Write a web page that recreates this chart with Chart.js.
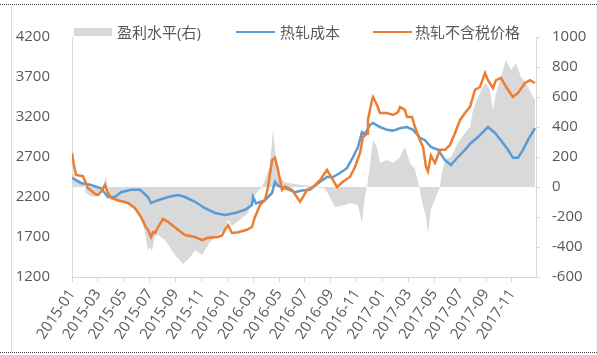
<!DOCTYPE html>
<html><head><meta charset="utf-8">
<script src="https://cdn.jsdelivr.net/npm/chart.js@4.4.1/dist/chart.umd.min.js"></script>
<style>
html,body{margin:0;padding:0;background:#fff;}
#wrap{position:relative;width:597px;height:355px;overflow:hidden;font-family:'Open Sans','Noto Sans CJK SC',sans-serif;}
canvas{position:absolute;left:0;top:0;}
.lg{position:absolute;top:23px;font-size:15px;color:#595959;line-height:18px;white-space:nowrap;}
.sw{position:absolute;}
.frame-top{position:absolute;left:0;top:4px;width:597px;border-top:1px dotted #444;}
.frame-bot{position:absolute;left:0;top:352px;width:597px;border-top:1px dotted #444;}
.frame-l{position:absolute;left:11px;top:6px;height:346px;border-left:1px solid #d9d9d9;}
.frame-r{position:absolute;left:596px;top:6px;height:346px;border-left:1px solid #eeeeee;}
</style></head>
<body>
<div id="wrap">
<canvas id="c" width="597" height="355"></canvas>
<div class="frame-top"></div><div class="frame-bot"></div><div class="frame-l"></div><div class="frame-r"></div>
<div class="sw" style="left:74px;top:28px;width:38px;height:8px;background:#D9D9D9"></div>
<div class="lg" style="left:117px">盈利水平(右)</div>
<div class="sw" style="left:236px;top:31px;width:39px;height:2px;background:#5B9BD5"></div>
<div class="lg" style="left:280px">热轧成本</div>
<div class="sw" style="left:373px;top:31px;width:39px;height:2px;background:#ED7D31"></div>
<div class="lg" style="left:415px">热轧不含税价格</div>
</div>
<script>
// x values: months elapsed since 2015-01-01
const tickLabels = ['2015-01','2015-03','2015-05','2015-07','2015-09','2015-11','2016-01','2016-03','2016-05','2016-07','2016-09','2016-11','2017-01','2017-03','2017-05','2017-07','2017-09','2017-11'];
const tickMonths = [0,2,4,6,8,10,12,14,16,18,20,22,24,26,28,30,32,34];

const priceT = [0,0.15,0.31,0.85,1.24,1.78,2.01,2.32,2.55,2.78,3.01,3.55,4.33,4.87,5.33,5.72,5.87,6.11,6.26,6.41,6.65,7.03,7.42,8.19,8.73,9.51,10.05,10.51,11.28,11.59,11.82,12.06,12.36,12.83,13.52,13.91,14.14,14.30,14.53,14.91,15.15,15.46,15.69,15.92,16.23,16.46,17.00,17.62,17.85,18.16,18.62,19.17,19.71,19.94,20.48,20.94,21.48,21.87,22.26,22.49,22.80,22.87,23.18,23.26,23.57,23.80,24.34,24.81,25.19,25.35,25.73,25.89,26.28,26.51,26.89,27.13,27.36,27.51,27.74,28.05,28.44,28.83,29.21,29.60,29.98,30.37,30.76,31.14,31.53,31.92,32.15,32.53,32.77,33.15,33.69,34.08,34.47,35.01,35.39,35.78];
const priceV = [2750,2600,2475,2460,2310,2240,2225,2280,2350,2250,2190,2160,2125,2060,1950,1820,1790,1700,1760,1750,1825,1925,1890,1790,1725,1700,1660,1690,1700,1720,1790,1850,1750,1760,1790,1825,1950,2010,2100,2160,2325,2660,2690,2540,2290,2330,2290,2140,2200,2290,2325,2410,2540,2475,2325,2390,2450,2575,2750,2950,2990,3160,3410,3450,3350,3250,3250,3225,3260,3325,3290,3200,3200,3075,2910,2825,2575,2520,2720,2625,2790,2790,2850,3000,3160,3250,3325,3540,3575,3750,3660,3560,3660,3690,3540,3450,3500,3625,3660,3625];

const costT = [0,0.70,1.47,2.24,2.78,3.32,3.79,4.56,5.26,5.87,6.11,6.65,7.42,8.19,8.73,9.51,10.28,11.05,11.82,12.60,13.37,13.91,13.99,14.22,14.91,15.46,15.69,15.92,16.46,17.23,17.77,18.39,19.17,19.71,20.17,20.71,21.25,21.72,22.10,22.41,22.64,23.03,23.26,23.80,24.34,24.81,25.35,25.89,26.35,26.89,27.28,27.74,28.28,28.83,29.29,29.83,30.37,30.83,31.38,31.92,32.15,32.69,33.15,33.69,34.08,34.47,34.85,35.24,35.78];
const costV = [2440,2375,2350,2310,2200,2200,2260,2290,2290,2200,2125,2160,2200,2225,2200,2140,2060,2000,1975,2000,2040,2100,2200,2120,2160,2250,2390,2340,2310,2260,2280,2290,2390,2450,2450,2500,2560,2700,2825,3010,2990,3100,3125,3075,3040,3030,3060,3075,3040,2940,2910,2825,2790,2660,2600,2700,2790,2875,2950,3040,3075,3000,2910,2790,2690,2690,2790,2910,3060];

const profitT = [0,0.08,0.23,0.62,0.93,1.08,1.39,1.78,2.16,2.47,2.63,2.78,2.94,3.71,4.48,5.26,5.64,5.87,6.03,6.18,6.41,6.65,7.19,7.96,8.58,9.12,9.51,10.05,10.66,11.44,11.82,12.06,12.36,12.98,13.60,14.14,14.68,14.99,15.30,15.53,15.69,15.92,16.46,17.23,18.01,18.78,19.55,19.94,20.32,21.10,21.48,22.10,22.41,22.64,22.80,23.03,23.26,23.57,23.80,24.34,24.81,25.35,25.73,26.12,26.51,26.89,26.97,27.36,27.51,27.74,28.13,28.44,28.52,28.83,29.29,29.83,30.37,30.76,30.99,31.38,31.76,31.99,32.30,32.53,32.77,33.15,33.54,33.93,34.31,34.70,35.09,35.47,35.78];
const profitV = [290,100,60,45,20,-40,-60,-67,-40,30,70,0,-80,-107,-110,-187,-300,-420,-400,-430,-330,-320,-353,-453,-513,-470,-420,-453,-367,-307,-280,-220,-260,-220,-173,-53,0,60,150,380,250,80,30,20,10,0,-10,-70,-133,-120,-107,-120,-240,-60,0,150,313,267,160,180,160,200,267,160,120,-20,-67,-200,-307,-150,-67,0,67,180,200,293,360,400,513,600,667,693,647,513,627,733,847,780,827,733,693,627,580];

const pts = (t, v) => t.map((x, i) => ({x, y: v[i]}));

Chart.defaults.font.family = "'Open Sans','Noto Sans CJK SC',sans-serif";
Chart.defaults.font.size = 15;
Chart.defaults.color = '#595959';

new Chart(document.getElementById('c'), {
  type: 'line',
  data: {
    datasets: [
      {label: '热轧不含税价格', data: pts(priceT, priceV), yAxisID: 'y', borderColor: '#ED7D31', borderWidth: 2.5, fill: false, order: 1},
      {label: '热轧成本', data: pts(costT, costV), yAxisID: 'y', borderColor: '#5B9BD5', borderWidth: 2.5, fill: false, order: 2},
      {label: '盈利水平(右)', data: pts(profitT, profitV), yAxisID: 'y1', borderColor: 'rgba(0,0,0,0)', borderWidth: 0, backgroundColor: '#D9D9D9', fill: 'origin', order: 3}
    ]
  },
  options: {
    responsive: false,
    animation: false,
    layout: {padding: {top: 37, left: 0, right: 0, bottom: 0}},
    elements: {point: {radius: 0}, line: {tension: 0}},
    plugins: {legend: {display: false}, tooltip: {enabled: false}},
    scales: {
      x: {
        type: 'linear', min: 0, max: 35.86,
        grid: {drawOnChartArea: false, drawTicks: true, tickLength: 5, color: '#d9d9d9'},
        border: {color: '#d9d9d9'},
        afterBuildTicks: s => { s.ticks = tickMonths.map(v => ({value: v})); },
        ticks: {minRotation: 56, maxRotation: 56, padding: 4, autoSkip: false,
          callback: (v, i) => tickLabels[i]},
        afterFit: s => { s.height = 78; }
      },
      y: {
        position: 'left', min: 1200, max: 4200,
        grid: {drawOnChartArea: false, drawTicks: false},
        border: {color: '#d9d9d9'},
        ticks: {stepSize: 500, padding: 22, callback: v => String(v)},
        afterFit: s => { s.width = 72; }
      },
      y1: {
        position: 'right', min: -600, max: 1000,
        grid: {drawOnChartArea: false, drawTicks: true, tickLength: 4, color: '#d9d9d9'},
        border: {color: '#d9d9d9'},
        ticks: {stepSize: 200, padding: 12, callback: v => String(v)},
        afterFit: s => { s.width = 61; }
      }
    }
  }
});
</script>
</body></html>
